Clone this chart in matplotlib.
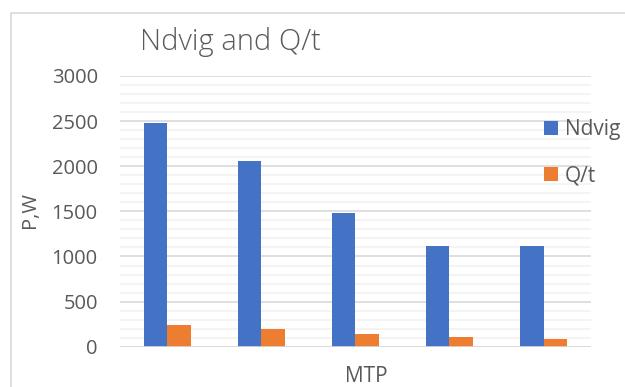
import numpy as np
import matplotlib.pyplot as plt
from matplotlib.patches import Rectangle
from matplotlib.ticker import MultipleLocator

# donnees
categories = ["1", "2", "3", "4", "5"]
ndvig = [2480, 2060, 1480, 1115, 1115]
q_t = [240, 195, 140, 105, 85]

bleu = "#4472C4"
orange = "#ED7D31"
gris_texte = "#595959"

plt.rcParams['font.family'] = ['Open Sans', 'DejaVu Sans']

fig = plt.figure(figsize=(6.25, 3.87), dpi=100)

# cadre du graphique
fig.patches.append(Rectangle((11 / 625, -0.1), 1.1, (387 - 13) / 387 + 0.1,
                             transform=fig.transFigure, fill=False,
                             edgecolor="#D9D9D9", linewidth=1.2))

ax = fig.add_axes([0.192, 0.104, 0.753, 0.6997])

x = np.arange(len(categories))
largeur = 0.25
ax.bar(x - largeur / 2, ndvig, largeur, color=bleu, label="Ndvig", zorder=3)
ax.bar(x + largeur / 2, q_t, largeur, color=orange, label="Q/t", zorder=3)

ax.set_xlim(-0.5, len(categories) - 0.5)
ax.set_ylim(0, 3000)
ax.yaxis.set_major_locator(MultipleLocator(500))
ax.yaxis.set_minor_locator(MultipleLocator(100))
ax.grid(True, which="major", axis="y", color="#D9D9D9", linewidth=1.2, zorder=0)
ax.grid(True, which="minor", axis="y", color="#F2F2F2", linewidth=1.2, zorder=0)
ax.axhline(0, color="#D9D9D9", linewidth=1.2, zorder=4)

ax.set_xticks([])
ax.tick_params(axis="y", which="both", length=0, labelsize=14.5,
               labelcolor=gris_texte, pad=16)
for cote in ax.spines.values():
    cote.set_visible(False)

fig.text(30 / 625, 1 - 210 / 387, "P,W", rotation=90, ha="center", va="center",
         fontsize=14.5, color=gris_texte)
fig.text(366 / 625, 1 - 377 / 387, "MTP", ha="center", va="center",
         fontsize=15, color=gris_texte)
fig.text(230 / 625, 1 - 42 / 387, "Ndvig and Q/t", ha="center", va="center",
         fontsize=21, color=gris_texte, fontweight="light")

fig.legend(loc="upper left", bbox_to_anchor=(536 / 625, 1 - 111 / 387),
           frameon=False, fontsize=15, labelcolor=gris_texte,
           handlelength=0.65, handleheight=0.65, handletextpad=0.35,
           labelspacing=1.2, borderaxespad=0)

fig.savefig("out.png", dpi=100)
